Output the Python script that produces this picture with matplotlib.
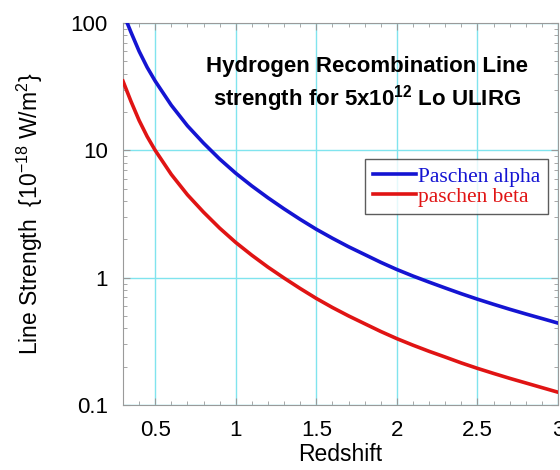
import matplotlib
matplotlib.use("Agg")
import matplotlib.pyplot as plt
import numpy as np
from matplotlib.ticker import MultipleLocator, LogLocator, NullFormatter, FixedLocator, FixedFormatter

# values (estimated along each curve)
z_alpha = [0.325, 0.35, 0.4, 0.45, 0.5, 0.6, 0.7, 0.8, 0.9, 1.0, 1.1, 1.2, 1.3, 1.4, 1.5,
           1.6, 1.7, 1.8, 1.9, 2.0, 2.1, 2.2, 2.3, 2.4, 2.5, 2.6, 2.7, 2.8, 2.9, 3.0]
alpha = [101, 84.5, 60.1, 44.9, 35.0, 22.6, 15.6, 11.4, 8.55, 6.61, 5.25, 4.24, 3.47, 2.87, 2.40,
         2.04, 1.75, 1.52, 1.32, 1.159, 1.03, 0.923, 0.83, 0.748, 0.678, 0.618, 0.565, 0.519, 0.478, 0.44]

z_beta = [0.3, 0.35, 0.4, 0.45, 0.5, 0.6, 0.7, 0.8, 0.9, 1.0, 1.1, 1.2, 1.3, 1.4, 1.5,
          1.6, 1.7, 1.8, 1.9, 2.0, 2.1, 2.2, 2.3, 2.4, 2.5, 2.6, 2.7, 2.8, 2.9, 3.0]
beta = [35.0, 24.2, 17.2, 12.85, 10.0, 6.47, 4.48, 3.27, 2.45, 1.89, 1.50, 1.21, 0.993, 0.822, 0.687,
        0.583, 0.501, 0.435, 0.378, 0.332, 0.295, 0.264, 0.238, 0.214, 0.194, 0.177, 0.162, 0.149, 0.137, 0.126]

xticks = [0.5, 1, 1.5, 2, 2.5, 3]
xticklabels = ["0.5", "1", "1.5", "2", "2.5", "3"]
yticks = [0.1, 1, 10, 100]
yticklabels = ["0.1", "1", "10", "100"]

sans = ["Liberation Sans", "DejaVu Sans"]
serif = ["Liberation Serif", "DejaVu Serif"]
plt.rcParams["font.family"] = sans
plt.rcParams["mathtext.fontset"] = "custom"
plt.rcParams["mathtext.rm"] = "Liberation Sans"
plt.rcParams["mathtext.bf"] = "Liberation Sans:bold"

blue = "#1414d2"
red = "#e01414"

fig = plt.figure(figsize=(5.6, 4.7), dpi=100)
ax = fig.add_axes([0.2196, 0.1383, 0.7768, 0.8127])

ax.plot(z_alpha, alpha, color=blue, lw=2.6, label="Paschen alpha", zorder=3,
        solid_joinstyle="round")
ax.plot(z_beta, beta, color=red, lw=2.6, label="paschen beta", zorder=3,
        solid_joinstyle="round")

ax.set_yscale("log")
ax.set_xlim(0.3, 3.0)
ax.set_ylim(0.1, 100)

ax.xaxis.set_major_locator(FixedLocator(xticks))
ax.xaxis.set_major_formatter(FixedFormatter(xticklabels))
ax.xaxis.set_minor_locator(MultipleLocator(0.1))
ax.yaxis.set_major_locator(FixedLocator(yticks))
ax.yaxis.set_major_formatter(FixedFormatter(yticklabels))
ax.yaxis.set_minor_locator(LogLocator(base=10, subs=np.arange(2, 10)))
ax.yaxis.set_minor_formatter(NullFormatter())

ax.grid(True, which="major", color="#80e4ee", lw=1.0, zorder=0)
ax.tick_params(which="both", direction="in", top=True, right=True, color="#999999",
               labelsize=16)
ax.tick_params(axis="x", pad=11)
ax.tick_params(axis="y", pad=11)
ax.tick_params(which="major", length=5)
ax.tick_params(which="minor", length=3)
for s in ax.spines.values():
    s.set_color("#9a9a9a")

ax.set_xlabel("Redshift", fontsize=16.5, labelpad=1)
ax.set_ylabel("Line Strength  {10$^{-18}$ W/m$^2$}", fontsize=16.5, labelpad=18)

ax.text(0.561, 0.838, "Hydrogen Recombination Line\nstrength for 5x10$^{\\mathbf{12}}$ Lo ULIRG",
        transform=ax.transAxes, ha="center", va="center", fontsize=16,
        fontweight="bold", linespacing=1.25)

leg = ax.legend(loc="upper right", bbox_to_anchor=(0.977, 0.644), prop={"family": serif, "size": 15.5},
                frameon=True, fancybox=False, handlelength=2.0, handletextpad=0.1,
                borderpad=0.35, labelspacing=0.0, borderaxespad=0)
leg.get_frame().set_edgecolor("#333333")
leg.get_frame().set_linewidth(1.0)
for t, c in zip(leg.get_texts(), [blue, red]):
    t.set_color(c)

fig.savefig("out.png", dpi=100)
